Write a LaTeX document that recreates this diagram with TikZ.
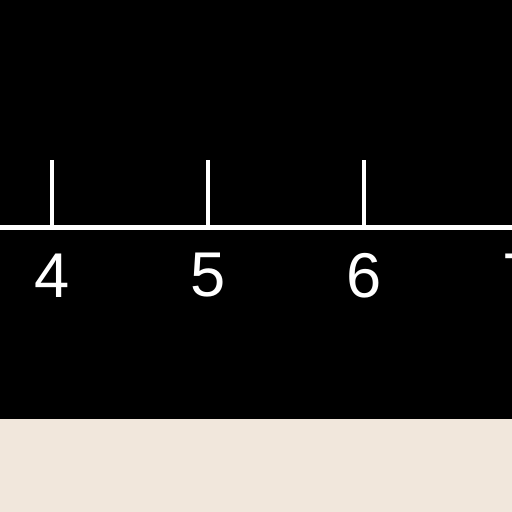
\documentclass[tikz,border=0pt]{standalone}
\usepackage{fontspec}
\setmainfont{Liberation Sans}
\definecolor{paper}{RGB}{241,231,220}

\begin{document}
\begin{tikzpicture}[x=0.02cm,y=0.02cm]
    \tikzstyle{axis}=[white,line width=0.1cm]
    \tikzstyle{tick}=[white,line width=0.075cm]
    \tikzstyle{num}=[white,font=\fontsize{36}{36}\selectfont,inner sep=0pt]
    % Frame
    \useasboundingbox (0,0) rectangle (512,512);
    \clip (0,0) rectangle (512,512);
    \fill[paper] (0,0) rectangle (512,93);
    \fill[black] (0,93) rectangle (512,512);
    % Axis
    \coordinate (left) at (0,285);
    \coordinate (right) at (512,285);
    \draw[axis] (left) -- (right);
    % Ticks and labels
    \foreach \n/\x in {4/52,5/208,6/364,7/520} {
        \coordinate (t\n) at (\x,285);
        \coordinate (h\n) at (\x,352);
        \draw[tick] (t\n) -- (h\n);
        \node[num] (l\n) at (\x,236.5) {\n};
    }
\end{tikzpicture}
\end{document}
